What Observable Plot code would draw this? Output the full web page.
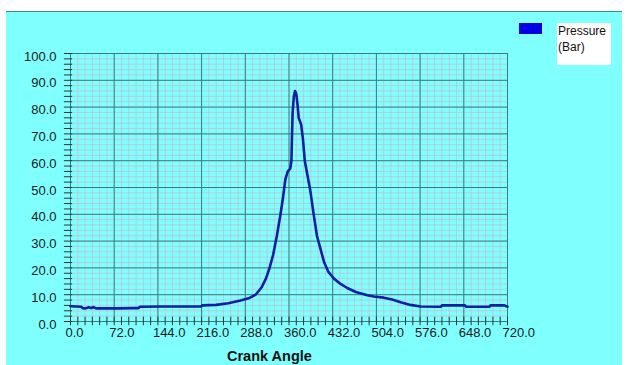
<!DOCTYPE html>
<html>
<head>
<meta charset="utf-8">
<script src="https://cdn.jsdelivr.net/npm/d3@7"></script>
<script src="https://cdn.jsdelivr.net/npm/@observablehq/plot@0.6"></script>
<style>
  html, body { margin: 0; padding: 0; background: #ffffff; }
  #wrap { position: relative; width: 628px; height: 365px; overflow: hidden; font-family: "Liberation Sans", Arial, sans-serif; }
  #bg { position: absolute; left: 6px; top: 11px; width: 616px; height: 354px; background: #80ffff; border-top: 1px solid #3a8a8a; box-sizing: border-box; }
  #chart { position: absolute; left: 0; top: 0; }
  #legend { position: absolute; left: 519px; top: 23px; }
  #legend .sw { position: absolute; left: 0; top: 0; width: 23px; height: 11px; background: #0000e0; }
  #legend .lab { position: absolute; left: 38px; top: 0; width: 54px; height: 42px; background: #ffffff; font-size: 12px; line-height: 16px; color: #111; padding-left: 1px; box-sizing: border-box; }
  #xlabel { position: absolute; left: 227px; top: 348px; font-size: 14.5px; font-weight: bold; color: #111; }
</style>
</head>
<body>
<div id="wrap">
  <div id="bg"></div>
  <div id="chart"></div>
  <div id="legend"><div class="sw"></div><div class="lab">Pressure<br>(Bar)</div></div>
  <div id="xlabel">Crank Angle</div>
</div>
<script>
// Crank angle (degrees)
const angle = [0, 10, 18, 20, 25, 30, 34, 38, 42, 60, 80, 100, 112, 114, 150, 180, 215, 217, 240, 260, 280, 295, 305, 315, 322, 328, 334, 340, 346, 350, 354, 358, 362, 364, 365, 366, 368, 370, 372, 374, 376, 380, 383, 386, 390, 395, 400, 406, 412, 418, 425, 434, 445, 456, 470, 489, 500, 516, 530, 544, 560, 577, 610, 612, 650, 652, 690, 692, 715, 720];
// Cylinder pressure (bar)
const pressure = [5.7, 5.6, 5.5, 5.0, 4.9, 5.3, 5.0, 5.4, 4.9, 4.9, 4.9, 5.0, 5.0, 5.5, 5.6, 5.6, 5.6, 6.0, 6.2, 6.8, 7.8, 8.8, 10.0, 12.8, 16.0, 20.0, 25.0, 32.0, 40.0, 46.0, 53.0, 56.0, 57.0, 60.0, 70.0, 78.0, 84.0, 86.0, 85.0, 81.0, 76.0, 73.5, 68.0, 60.0, 55.0, 49.0, 41.0, 32.0, 27.0, 22.0, 18.5, 16.0, 14.0, 12.5, 11.0, 9.8, 9.3, 8.9, 8.2, 7.2, 6.2, 5.6, 5.5, 6.0, 6.0, 5.5, 5.5, 6.0, 6.0, 5.5];
// Tick values
const xMajor = [0, 72, 144, 216, 288, 360, 432, 504, 576, 648, 720];
const yMajor = [0, 10, 20, 30, 40, 50, 60, 70, 80, 90, 100];
const xMinor = d3.range(0, 721, 12);
const yMinor = d3.range(0, 101, 2);

const data = angle.map((a, i) => ({angle: a, pressure: pressure[i]}));

const minorColor = "#c9b4c6";
const majorColor = "#347f80";
const textColor = "#1a1a1a";

const chart = Plot.plot({
  width: 628,
  height: 365,
  marginLeft: 70,
  marginRight: 121,
  marginTop: 53,
  marginBottom: 44,
  style: {background: "transparent", fontFamily: "'Liberation Sans', Arial, sans-serif", fontSize: "13px", color: textColor},
  x: {domain: [0, 720]},
  y: {domain: [0, 100]},
  marks: [
    Plot.ruleX(xMinor, {stroke: minorColor, strokeWidth: 1, strokeOpacity: 0.6}),
    Plot.ruleY(yMinor, {stroke: minorColor, strokeWidth: 1, strokeOpacity: 0.6}),
    Plot.ruleX(xMajor, {stroke: majorColor, strokeWidth: 1}),
    Plot.ruleY(yMajor, {stroke: majorColor, strokeWidth: 1}),
    // crossing tick marks on the axes
    Plot.ruleX(xMinor, {x: d => d, y1: -1.6, y2: 1.6, stroke: "#333", strokeWidth: 1}),
    Plot.ruleY(yMinor, {y: d => d, x1: -10, x2: 3.5, stroke: "#333", strokeWidth: 1}),
    Plot.axisY(yMajor, {tickSize: 0, tickPadding: 14, tickFormat: d => d.toFixed(1), fill: textColor, fontSize: 13, dy: 3, label: null}),
    Plot.axisX(xMajor, {tickSize: 0, tickPadding: 6, tickFormat: d => d.toFixed(1), fill: textColor, fontSize: 13, textAnchor: "start", dx: -5, label: null}),
    Plot.line(data, {x: "angle", y: "pressure", stroke: "#1020a0", strokeWidth: 2.6, strokeLinejoin: "round"})
  ]
});
document.getElementById("chart").appendChild(chart);
</script>
</body>
</html>
